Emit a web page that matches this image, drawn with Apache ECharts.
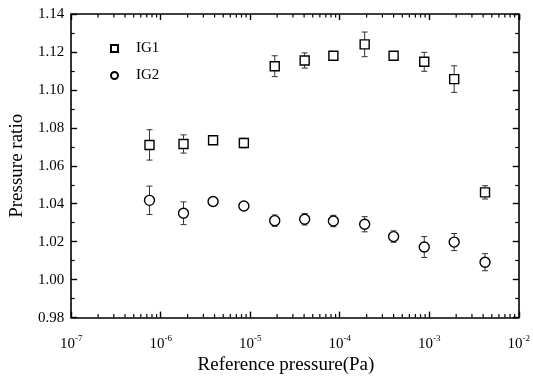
<!DOCTYPE html>
<html>
<head>
<meta charset="utf-8">
<script src="https://cdn.jsdelivr.net/npm/echarts@6/dist/echarts.min.js"></script>
<style>
html,body{margin:0;padding:0;background:#fff;}
#c{width:533px;height:380px;}
</style>
</head>
<body>
<div id="c"></div>
<script>
// Reference pressure (Pa)
var pressures = [7.5e-7, 1.8e-6, 3.85e-6, 8.5e-6, 1.88e-5, 4.06e-5, 8.5e-5, 1.9e-4, 4.0e-4, 8.8e-4, 1.9e-3, 4.2e-3];
// IG1 pressure ratio and error
var ig1 = [1.071, 1.0715, 1.0735, 1.072, 1.1125, 1.1155, 1.118, 1.124, 1.118, 1.1148, 1.1057, 1.046];
var ig1Err = [0.008, 0.0048, 0.0015, 0.0025, 0.0055, 0.004, 0.0015, 0.0065, 0.002, 0.005, 0.007, 0.0035];
// IG2 pressure ratio and error
var ig2 = [1.0418, 1.035, 1.0412, 1.0388, 1.0311, 1.0318, 1.0309, 1.0292, 1.0227, 1.0172, 1.0198, 1.0092];
var ig2Err = [0.0075, 0.006, 0.0012, 0.0012, 0.003, 0.003, 0.003, 0.004, 0.003, 0.0055, 0.0045, 0.0045];
// axis settings
var xMin = 1e-7, xMax = 1e-2;
var yMin = 0.98, yMax = 1.14, yStep = 0.02;
var seriesNames = ['IG1', 'IG2'];

// log-axis minor tick positions (2..9 x 10^n)
var minorTickVals = [];
for (var n = -7; n <= -3; n++) {
  for (var k = 2; k <= 9; k++) minorTickVals.push([k * Math.pow(10, n)]);
}

var FONT = 'Liberation Serif';
var chart = echarts.init(document.getElementById('c'), null, {renderer: 'canvas'});

function errData(vals, errs) {
  return pressures.map(function (p, i) { return [p, vals[i] - errs[i], vals[i] + errs[i]]; });
}
function errRender(params, api) {
  var x = api.value(0);
  var lo = api.coord([x, api.value(1)]);
  var hi = api.coord([x, api.value(2)]);
  var cap = 3;
  var st = {stroke: '#333', lineWidth: 1};
  return {
    type: 'group',
    children: [
      {type: 'line', shape: {x1: lo[0], y1: lo[1], x2: hi[0], y2: hi[1]}, style: st},
      {type: 'line', shape: {x1: lo[0] - cap, y1: lo[1], x2: lo[0] + cap, y2: lo[1]}, style: st},
      {type: 'line', shape: {x1: hi[0] - cap, y1: hi[1], x2: hi[0] + cap, y2: hi[1]}, style: st}
    ]
  };
}
function minorRender(params, api) {
  var b = api.coord([api.value(0), yMin]);
  var t = api.coord([api.value(0), yMax]);
  var L = 3.5;
  var st = {stroke: '#000', lineWidth: 1.2};
  return {
    type: 'group',
    children: [
      {type: 'line', shape: {x1: b[0], y1: b[1], x2: b[0], y2: b[1] - L}, style: st},
      {type: 'line', shape: {x1: t[0], y1: t[1], x2: t[0], y2: t[1] + L}, style: st}
    ]
  };
}

var axisLine = {show: true, onZero: false, lineStyle: {color: '#000', width: 1.6}};
var xCommon = {
  type: 'log', logBase: 10, min: xMin, max: xMax, interval: 1,
  axisLine: axisLine,
  axisTick: {show: true, inside: true, length: 6, lineStyle: {color: '#000', width: 1.4}},
  splitLine: {show: false}
};
var yCommon = {
  type: 'value', min: yMin, max: yMax, interval: yStep,
  axisLine: axisLine,
  axisTick: {show: true, inside: true, length: 6, lineStyle: {color: '#000', width: 1.4}},
  minorTick: {show: true, splitNumber: 2, length: 3.5, lineStyle: {color: '#000', width: 1.2}},
  splitLine: {show: false}
};

chart.setOption({
  animation: false,
  backgroundColor: '#fff',
  textStyle: {fontFamily: FONT},
  grid: {left: 69, right: 14, top: 14, bottom: 55},
  legend: {
    data: seriesNames,
    orient: 'vertical',
    left: 105, top: 36,
    itemWidth: 7, itemHeight: 7, itemGap: 12,
    textStyle: {fontFamily: FONT, fontSize: 15, color: '#000', padding: [0, 0, 0, 13]}
  },
  xAxis: [
    Object.assign({}, xCommon, {
      position: 'bottom',
      name: 'Reference pressure(Pa)',
      nameLocation: 'middle', nameGap: 38,
      nameTextStyle: {fontFamily: FONT, fontSize: 19, color: '#000', padding: [0, 18, 0, 0]},
      axisLabel: {
        margin: 17,
        formatter: function (v) { return '{b|10}{s|' + Math.round(Math.log10(v)) + '}'; },
        rich: {
          b: {fontFamily: FONT, fontSize: 15, color: '#000'},
          s: {fontFamily: FONT, fontSize: 9, color: '#000', verticalAlign: 'top', padding: [0, 0, 9, 0]}
        }
      }
    }),
    Object.assign({}, xCommon, {position: 'top', axisLabel: {show: false}})
  ],
  yAxis: [
    Object.assign({}, yCommon, {
      position: 'left',
      name: 'Pressure ratio', nameLocation: 'middle', nameGap: 43,
      nameTextStyle: {fontFamily: FONT, fontSize: 19, color: '#000'},
      axisLabel: {
        margin: 7, fontFamily: FONT, fontSize: 15, color: '#000',
        formatter: function (v) { return v.toFixed(2); }
      }
    }),
    Object.assign({}, yCommon, {position: 'right', axisLabel: {show: false}})
  ],
  series: [
    {type: 'custom', name: 'minorTicks', renderItem: minorRender, data: minorTickVals,
     xAxisIndex: 0, yAxisIndex: 0, clip: false, silent: true, z: 3, encode: {x: 0}},
    {type: 'custom', name: 'IG1 err', renderItem: errRender, data: errData(ig1, ig1Err),
     encode: {x: 0, y: [1, 2]}, z: 2, silent: true},
    {type: 'custom', name: 'IG2 err', renderItem: errRender, data: errData(ig2, ig2Err),
     encode: {x: 0, y: [1, 2]}, z: 2, silent: true},
    {type: 'scatter', name: seriesNames[0], symbol: 'rect', symbolSize: 9,
     data: pressures.map(function (p, i) { return [p, ig1[i]]; }),
     itemStyle: {color: '#fff', borderColor: '#000', borderWidth: 1.4, opacity: 1}, z: 5},
    {type: 'scatter', name: seriesNames[1], symbol: 'circle', symbolSize: 10,
     data: pressures.map(function (p, i) { return [p, ig2[i]]; }),
     itemStyle: {color: '#fff', borderColor: '#000', borderWidth: 1.4, opacity: 1}, z: 5}
  ]
});
</script>
</body>
</html>
